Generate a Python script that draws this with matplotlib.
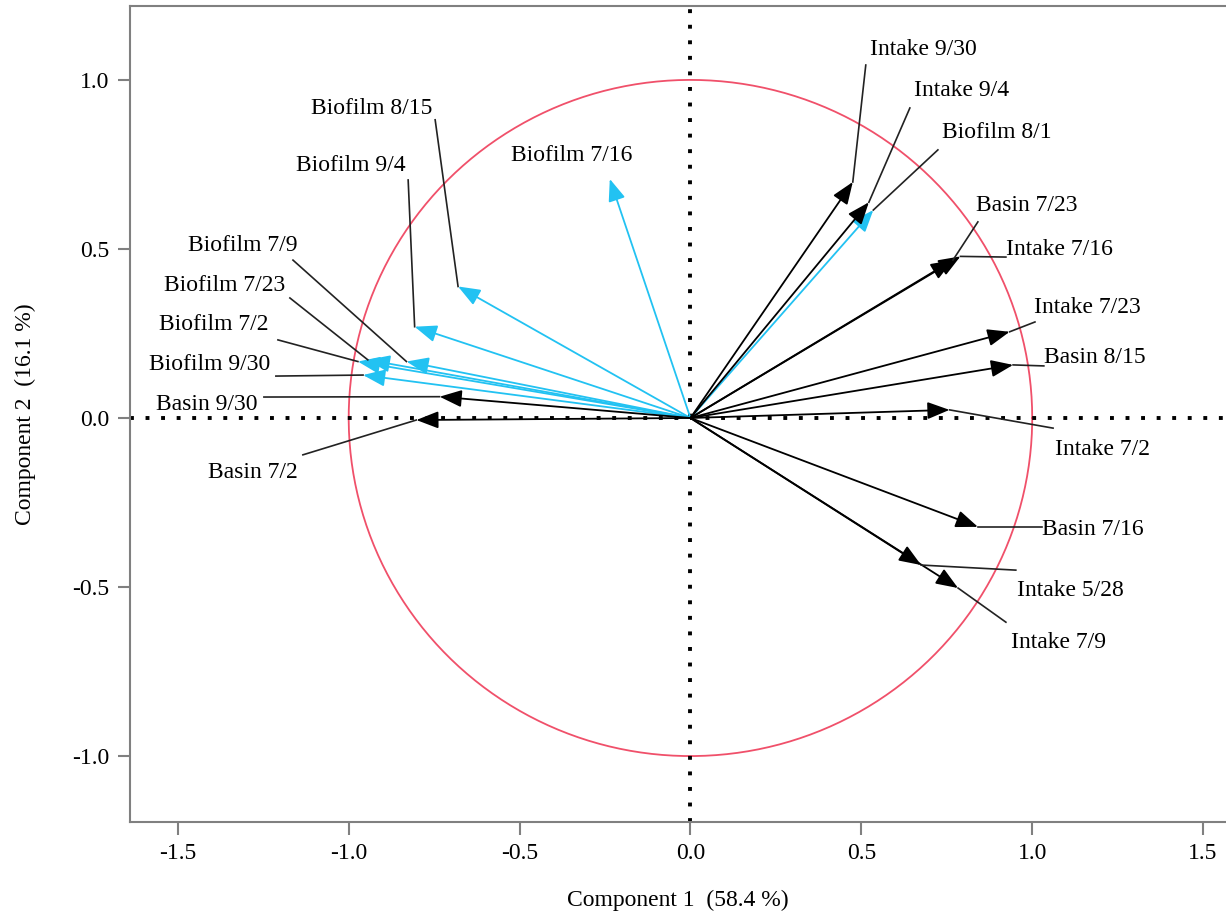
import matplotlib
matplotlib.use("Agg")
import matplotlib.pyplot as plt
import numpy as np

# loadings (component 1, component 2)
names = ["Biofilm 7/16", "Biofilm 8/15", "Biofilm 9/4", "Biofilm 7/9", "Biofilm 7/23",
         "Biofilm 7/2", "Biofilm 9/30", "Biofilm 8/1",
         "Basin 9/30", "Basin 7/2", "Intake 9/30", "Intake 9/4", "Basin 7/23",
         "Intake 7/16", "Intake 7/23", "Basin 8/15", "Intake 7/2", "Basin 7/16",
         "Intake 5/28", "Intake 7/9"]
comp1 = [-0.236, -0.68, -0.807, -0.831, -0.944, -0.973, -0.958, 0.535,
         -0.734, -0.802, 0.475, 0.522, 0.768, 0.79, 0.934, 0.944, 0.758, 0.841,
         0.675, 0.783]
comp2 = [0.707, 0.389, 0.27, 0.167, 0.172, 0.167, 0.127, 0.615,
         0.063, -0.006, 0.698, 0.638, 0.467, 0.478, 0.255, 0.157, 0.024, -0.322,
         -0.435, -0.503]
is_biofilm = [n.startswith("Biofilm") for n in names]

# label placement: text anchor (left, centre) and leader line start
label_pos = {
    "Intake 9/30": ((0.525, 1.098), (0.513, 1.044)),
    "Intake 9/4": ((0.654, 0.976), (0.642, 0.917)),
    "Biofilm 8/1": ((0.736, 0.852), (0.724, 0.793)),
    "Basin 7/23": ((0.835, 0.636), (0.841, 0.580)),
    "Intake 7/16": ((0.923, 0.506), (0.923, 0.476)),
    "Intake 7/23": ((1.005, 0.334), (1.008, 0.284)),
    "Basin 8/15": ((1.034, 0.186), (1.034, 0.154)),
    "Intake 7/2": ((1.066, -0.086), (1.061, -0.030)),
    "Basin 7/16": ((1.028, -0.322), (1.028, -0.322)),
    "Intake 5/28": ((0.955, -0.503), (0.952, -0.450)),
    "Intake 7/9": ((0.938, -0.657), (0.923, -0.604)),
    "Biofilm 8/15": ((-1.111, 0.923), (-0.747, 0.882)),
    "Biofilm 9/4": ((-1.154, 0.754), (-0.826, 0.704)),
    "Biofilm 7/16": ((-0.526, 0.784), None),
    "Biofilm 7/9": ((-1.470, 0.518), (-1.163, 0.467)),
    "Biofilm 7/23": ((-1.541, 0.399), (-1.172, 0.355)),
    "Biofilm 7/2": ((-1.555, 0.284), (-1.207, 0.231)),
    "Biofilm 9/30": ((-1.584, 0.166), (-1.213, 0.124)),
    "Basin 9/30": ((-1.564, 0.047), (-1.248, 0.062)),
    "Basin 7/2": ((-1.412, -0.154), (-1.134, -0.109)),
}

plt.rcParams['font.family'] = ['Liberation Serif', 'DejaVu Serif']

fig = plt.figure(figsize=(12.26, 9.17), dpi=100)
ax = fig.add_axes([0.106, 0.1036, 0.894, 0.89])
ax.set_xlim(-1.64, 1.567)
ax.set_ylim(-1.195, 1.219)

# unit circle and dotted axes
t = np.linspace(0, 2 * np.pi, 400)
ax.plot(np.cos(t), np.sin(t), color='#f0506a', lw=1.3, zorder=1)
ax.axhline(0, color='black', ls=(0, (1, 3)), lw=2.8, zorder=1)
ax.axvline(0, color='black', ls=(0, (1, 3)), lw=2.8, zorder=1)

cyan = '#22c2f2'
order = sorted(range(len(names)), key=lambda i: not is_biofilm[i])
for i in order:
    col = cyan if is_biofilm[i] else 'black'
    ax.annotate('', xy=(comp1[i], comp2[i]), xytext=(0, 0),
                arrowprops=dict(arrowstyle='-|>,head_length=0.9,head_width=0.35',
                                color=col, lw=1.3, shrinkA=0, shrinkB=0,
                                mutation_scale=15), zorder=3)

for i, name in enumerate(names):
    txt, lead = label_pos[name]
    ax.text(txt[0], txt[1], name, fontsize=17, ha='left', va='center_baseline', zorder=5)
    if lead is not None:
        ax.plot([lead[0], comp1[i]], [lead[1], comp2[i]], color='#222222', lw=1.2, zorder=4)

ax.set_xticks([-1.5, -1.0, -0.5, 0.0, 0.5, 1.0, 1.5])
ax.set_yticks([-1.0, -0.5, 0.0, 0.5, 1.0])
ax.set_xticklabels(['-1.5', '-1.0', '-0.5', '0.0', '0.5', '1.0', '1.5'])
ax.set_yticklabels(['-1.0', '-0.5', '0.0', '0.5', '1.0'])
ax.tick_params(labelsize=17, length=9, width=1.5, color='#808080', pad=6)
for s in ['left', 'bottom', 'top']:
    ax.spines[s].set_color('#808080')
    ax.spines[s].set_linewidth(1.5)
ax.spines['right'].set_visible(False)

ax.set_xlabel('Component 1  (58.4 %)', fontsize=17, labelpad=19)
ax.set_ylabel('Component 2  (16.1 %)', fontsize=17, labelpad=26)

fig.savefig('out.png', dpi=100)
